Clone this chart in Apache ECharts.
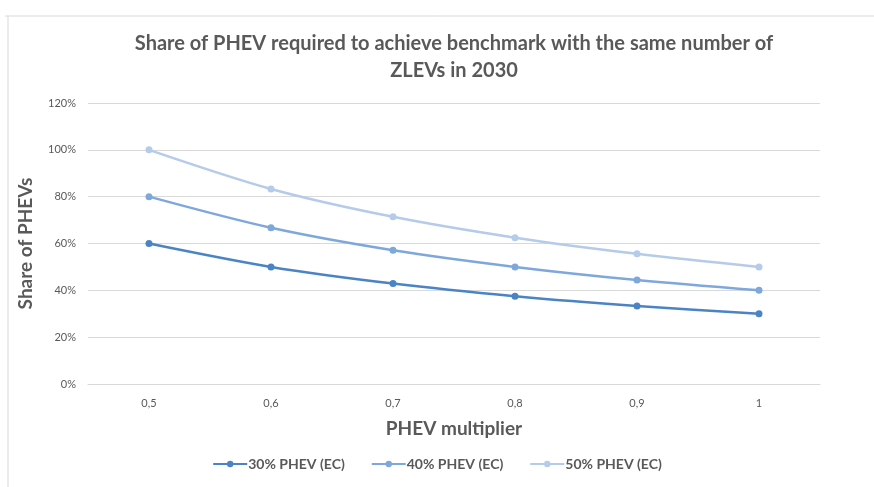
<!DOCTYPE html>
<html>
<head>
<meta charset="utf-8">
<script src="https://cdn.jsdelivr.net/npm/echarts@6/dist/echarts.min.js"></script>
<style>
  html, body { margin: 0; padding: 0; background: #fff; }
  #chart { width: 874px; height: 487px; }
</style>
</head>
<body>
<div id="chart"></div>
<script>
// 数据
const multipliers = ['0,5', '0,6', '0,7', '0,8', '0,9', '1']
const phev30 = [60, 50, 42.9, 37.5, 33.3, 30]
const phev40 = [80, 66.7, 57.1, 50, 44.4, 40]
const phev50 = [100, 83.3, 71.4, 62.5, 55.6, 50]
const seriesNames = ['30% PHEV (EC)', '40% PHEV (EC)', '50% PHEV (EC)']
const colors = ['#4a84c5', '#7ea8dc', '#b5cbea']

const myChart = echarts.init(document.getElementById('chart'))

function line(name, data, color) {
    return {
        name: name,
        type: 'line',
        data: data,
        symbol: 'circle',
        symbolSize: 7,
        lineStyle: { width: 2.5, color: color },
        itemStyle: { color: color },
        smooth: 0.3
    }
}

const option = {
    animation: false,
    textStyle: { fontFamily: 'Lato' },
    graphic: [
        // 外框
        { type: 'line', shape: { x1: 5, y1: 16, x2: 874, y2: 16 }, style: { stroke: '#d9d9d9', lineWidth: 1 } },
        { type: 'line', shape: { x1: 8, y1: 16, x2: 8, y2: 487 }, style: { stroke: '#d9d9d9', lineWidth: 1 } }
    ],
    title: {
        text: 'Share of PHEV required to achieve benchmark with the same number of\nZLEVs in 2030',
        left: 449,
        textAlign: 'center',
        top: 25,
        textStyle: { fontSize: 20, fontWeight: 'bold', color: '#595959', lineHeight: 27, fontFamily: 'Lato' }
    },
    legend: {
        data: seriesNames,
        bottom: 11,
        left: 'center',
        itemWidth: 34,
        itemHeight: 8,
        itemGap: 26,
        textStyle: { fontSize: 14, fontWeight: 'bold', color: '#595959', padding: [0, 0, 0, -4] }
    },
    grid: { left: 88, right: 54, top: 103, bottom: 103 },
    xAxis: {
        type: 'category',
        data: multipliers,
        name: 'PHEV multiplier',
        nameLocation: 'middle',
        nameGap: 35,
        nameTextStyle: { fontSize: 19, fontWeight: 'bold', color: '#595959' },
        axisLine: { lineStyle: { color: '#d9d9d9' } },
        axisTick: { show: false },
        axisLabel: { color: '#595959', fontSize: 11, margin: 14 }
    },
    yAxis: {
        type: 'value',
        min: 0,
        max: 120,
        interval: 20,
        name: 'Share of PHEVs',
        nameLocation: 'middle',
        nameGap: 53,
        nameTextStyle: { fontSize: 19, fontWeight: 'bold', color: '#595959' },
        axisLabel: { formatter: '{value}%', color: '#595959', fontSize: 11, margin: 12 },
        splitLine: { lineStyle: { color: '#d9d9d9' } }
    },
    series: [
        line(seriesNames[0], phev30, colors[0]),
        line(seriesNames[1], phev40, colors[1]),
        line(seriesNames[2], phev50, colors[2])
    ]
}

myChart.setOption(option)
</script>
</body>
</html>
